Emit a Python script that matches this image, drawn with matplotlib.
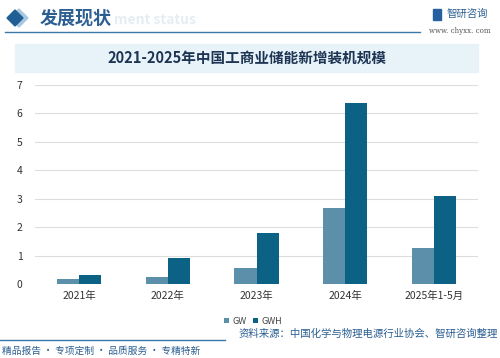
import numpy as np
import matplotlib.pyplot as plt
from matplotlib.patches import Rectangle, Polygon

plt.rcParams['font.family'] = ['Noto Sans CJK SC', 'DejaVu Sans']

# 数据
categories = ['2021年', '2022年', '2023年', '2024年', '2025年1-5月']
gw = [0.18, 0.24, 0.55, 2.66, 1.28]
gwh = [0.32, 0.90, 1.80, 6.36, 3.09]
series_names = ['GW', 'GWH']
y_ticks = [0, 1, 2, 3, 4, 5, 6, 7]

title = '2021-2025年中国工商业储能新增装机规模'
source = '资料来源：中国化学与物理电源行业协会、智研咨询整理'
slogan = '精品报告 · 专项定制 · 品质服务 · 专精特新'

W, H = 500, 358
fig = plt.figure(figsize=(W / 100, H / 100), dpi=100)
fig.patch.set_facecolor('white')


def fx(px):
    return px / W


def fy(py):
    return 1 - py / H


# ==================== 页眉 ====================
fig.patches.append(Polygon([[fx(10), fy(18)], [fx(19), fy(9)], [fx(28), fy(18)], [fx(19), fy(27)]],
                           closed=True, transform=fig.transFigure, color='#a9c8e0', zorder=1))
fig.patches.append(Polygon([[fx(7), fy(18)], [fx(15), fy(10)], [fx(23), fy(18)], [fx(15), fy(26)]],
                           closed=True, transform=fig.transFigure, color='#1f5f93', zorder=2))
fig.text(fx(114), fy(20), 'ment status', fontsize=10, color='#e6edf2', fontweight='bold',
         ha='left', va='center', zorder=1)
fig.text(fx(40), fy(18), '发展现状', fontsize=13, color='#2b5f91', fontweight='bold',
         ha='left', va='center', zorder=3)
fig.add_artist(plt.Line2D([fx(5), fx(420)], [fy(32), fy(32)], color='#3b78a8', lw=1.0))
fig.patches.append(Rectangle((fx(433), fy(20)), fx(8), 11 / H, transform=fig.transFigure,
                             color='#2660a0'))
fig.text(fx(447), fy(14), '智研咨询', fontsize=7.5, color='#2b5f91', ha='left', va='center')
fig.text(fx(491), fy(31), 'www. chyxx. com', fontsize=5, color='#555555', ha='right',
         va='center', family='DejaVu Serif')

# 标题栏
fig.patches.append(Rectangle((fx(15), fy(72)), fx(463), 28 / H, transform=fig.transFigure,
                             color='#e8f2f9', zorder=0))
fig.text(fx(247), fy(58), title, fontsize=10.5, fontweight='bold', color='#1d3553',
         ha='center', va='center')

# ==================== 柱状图 ====================
ax = fig.add_axes([fx(35), fy(284), fx(443), (284 - 85) / H])
x = np.arange(len(categories))
bw = 0.25
ax.bar(x - bw / 2, gw, bw, color='#5b8faa', label=series_names[0], zorder=3)
ax.bar(x + bw / 2, gwh, bw, color='#0b6285', label=series_names[1], zorder=3)

ax.set_ylim(0, 7)
ax.set_xlim(-0.5, len(categories) - 0.5)
ax.set_yticks(y_ticks)
ax.set_xticks(x)
ax.set_xticklabels(categories, fontsize=7.5, color='#333333')
ax.tick_params(axis='y', labelsize=7.5, colors='#333333', length=0, pad=9)
ax.tick_params(axis='x', length=0, pad=5)
ax.grid(axis='y', color='#dddddd', lw=0.8, zorder=0)
for s in ax.spines.values():
    s.set_visible(False)
ax.set_facecolor('none')

fig.legend(loc='center', bbox_to_anchor=(fx(253), fy(321)), ncol=2, frameon=False,
           fontsize=6.5, handlelength=0.55, handleheight=0.55, handletextpad=0.3,
           columnspacing=0.8, labelcolor='#444444')

# ==================== 页脚 ====================
fig.add_artist(plt.Line2D([fx(0), fx(225)], [fy(340), fy(340)], color='#3b78a8', lw=1.0))
fig.text(fx(2), fy(351), slogan, fontsize=7, color='#2b5f91', ha='left', va='center')
fig.text(fx(498), fy(334), source, fontsize=7.5, color='#2b5f91', ha='right', va='center')

fig.savefig('out.png', dpi=100)
